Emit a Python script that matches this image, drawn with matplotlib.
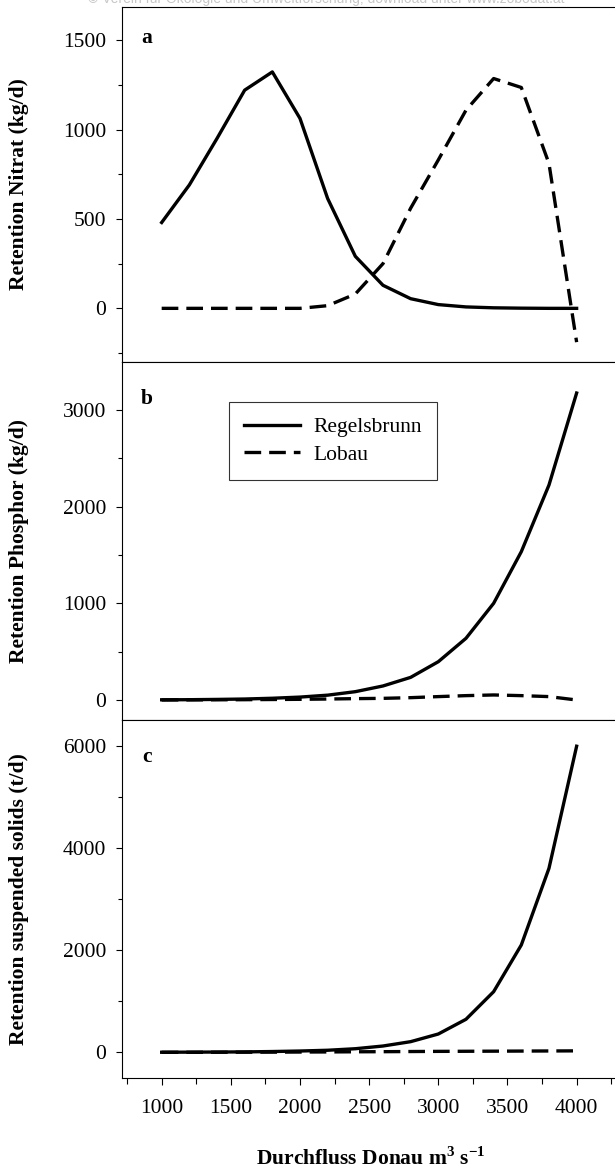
import numpy as np
import matplotlib
matplotlib.use('Agg')
import matplotlib.pyplot as plt
from matplotlib.ticker import MultipleLocator

plt.rcParams['font.family'] = ['Liberation Serif', 'DejaVu Serif']
plt.rcParams['mathtext.fontset'] = 'custom'
plt.rcParams['mathtext.rm'] = 'Liberation Serif'
plt.rcParams['mathtext.bf'] = 'Liberation Serif:bold'

# Durchfluss Donau (m3/s)
flow = [1000, 1200, 1400, 1600, 1800, 2000, 2200, 2400, 2600, 2800,
        3000, 3200, 3400, 3600, 3800, 4000]

# a: Retention Nitrat (kg/d)
nitrat_regelsbrunn = [480, 690, 950, 1220, 1322, 1062, 614, 291, 129, 54,
                      21, 8, 3, 1, 0, 0]
nitrat_lobau = [0, 0, 0, 0, 0, 0, 15, 80, 250, 560,
                830, 1108, 1285, 1235, 810, -189]

# b: Retention Phosphor (kg/d)
phosphor_regelsbrunn = [2, 3, 6, 10, 18, 30, 50, 86, 145, 234,
                        396, 638, 1000, 1534, 2223, 3175]
phosphor_lobau = [0, 1, 2, 3, 5, 7, 10, 14, 17, 24,
                  35, 45, 52, 45, 35, 0]

# c: Retention suspended solids (t/d)
solids_regelsbrunn = [1, 3, 5, 8, 15, 25, 40, 70, 123, 208,
                      358, 646, 1186, 2100, 3600, 5990]
solids_lobau = [0, 0, 1, 2, 3, 5, 7, 10, 12, 15,
                18, 20, 22, 24, 26, 28]

series_names = ['Regelsbrunn', 'Lobau']
panel_letters = ['a', 'b', 'c']
ylabels = ['Retention Nitrat (kg/d)', 'Retention Phosphor (kg/d)',
           'Retention suspended solids (t/d)']

W, H = 615, 1170
fig = plt.figure(figsize=(W / 100, H / 100), dpi=100)

left = 121.7 / W
width = 1.008 - left
panels = [(7, 362), (362, 720), (720, 1078)]  # pixel top, bottom
letter_y = [38, 399, 757]
ylims = [(-300, 1685), (-207, 3496), (-503, 6503)]
major = [500, 1000, 2000]
minor = [250, 500, 1000]
data = [(nitrat_regelsbrunn, nitrat_lobau),
        (phosphor_regelsbrunn, phosphor_lobau),
        (solids_regelsbrunn, solids_lobau)]

fs = 15.5
lw = 2.4
axes = []
for i, (top, bot) in enumerate(panels):
    ax = fig.add_axes([left, 1 - bot / H, width, (bot - top) / H])
    reg, lob = data[i]
    ax.plot(flow, reg, color='black', lw=lw, label=series_names[0])
    ax.plot(flow, lob, color='black', lw=lw, dashes=(5, 2.4), label=series_names[1])
    ax.set_xlim(711, 4313)
    ax.set_ylim(*ylims[i])
    ax.yaxis.set_major_locator(MultipleLocator(major[i]))
    ax.yaxis.set_minor_locator(MultipleLocator(minor[i]))
    ax.xaxis.set_major_locator(MultipleLocator(500))
    ax.xaxis.set_minor_locator(MultipleLocator(250))
    ax.tick_params(axis='y', which='major', direction='out', length=4, width=0.8,
                   labelsize=fs, pad=7)
    ax.tick_params(axis='y', which='minor', direction='out', length=3, width=0.8)
    ax.tick_params(axis='x', which='major', direction='out', length=5, width=0.8,
                   labelsize=fs, pad=10)
    ax.tick_params(axis='x', which='minor', direction='out', length=4, width=0.8)
    if i < 2:
        ax.tick_params(axis='x', which='both', bottom=False, labelbottom=False)
    for s in ax.spines.values():
        s.set_linewidth(0.8)
    ax.set_ylabel(ylabels[i], fontsize=fs, fontweight='bold')
    ax.yaxis.set_label_coords((29 - 121.7) / (width * W), 0.5)
    ax.text((147 - 121.7) / (width * W), (bot - letter_y[i]) / (bot - top), panel_letters[i],
            transform=ax.transAxes, fontsize=fs, fontweight='bold',
            ha='center', va='center')
    axes.append(ax)

leg = axes[1].legend(loc='upper left', bbox_to_anchor=((229 - 121.7) / (width * W), (720 - 402) / 358),
                     borderaxespad=0, fontsize=fs, handlelength=2.6, labelspacing=0.35,
                     frameon=True, fancybox=False, edgecolor='black', borderpad=0.7,
                     handletextpad=0.6)
leg.get_frame().set_linewidth(0.8)

axes[2].set_xlabel(r'Durchfluss Donau m$^{\mathbf{3}}$ s$^{\mathbf{-1}}$', fontsize=fs,
                   fontweight='bold', labelpad=21)

# faint download watermark, clipped at the top edge as in the scan
fig.text(326 / W, 1 - 3 / H, '© Verein für Ökologie und Umweltforschung; download unter www.zobodat.at',
         family='Liberation Sans', fontsize=10, color='#c8c8c8', ha='center', va='baseline')

fig.savefig('out.png', dpi=100)
